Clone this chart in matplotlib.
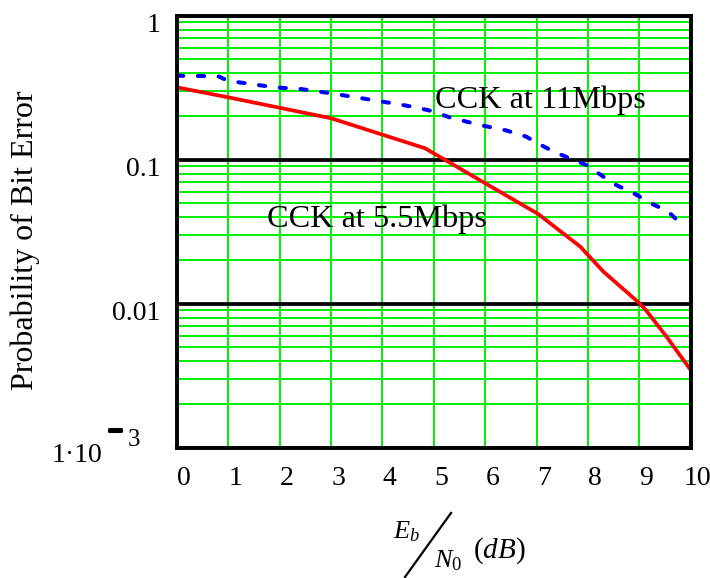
import matplotlib
matplotlib.use("Agg")
import matplotlib.pyplot as plt
import matplotlib.transforms as mtransforms
import matplotlib.patheffects as pe
from matplotlib.lines import Line2D
from matplotlib.ticker import LogLocator, NullFormatter
import numpy as np

plt.rcParams["font.family"] = ["Liberation Serif", "DejaVu Serif"]
plt.rcParams["mathtext.fontset"] = "custom"
plt.rcParams["mathtext.rm"] = "Liberation Serif"
plt.rcParams["mathtext.it"] = "Liberation Serif:italic"
plt.rcParams["lines.scale_dashes"] = False

# CCK at 5.5 Mbps (solid red)
ebn0_55 = [0, 1, 3, 4.83, 6, 7.03, 7.85, 8.3, 9.0, 9.13, 9.53, 10]
ber_55 = [0.318, 0.271, 0.194, 0.120, 0.0686, 0.042, 0.0249, 0.0167,
          0.0101, 0.0090, 0.0059, 0.00346]

# CCK at 11 Mbps (dashed blue)
ebn0_11 = [0, 0.8, 1.0, 1.25, 1.9, 2.4, 3.0, 3.6, 4.0, 4.6, 5.0, 5.3, 5.9,
           6.4, 6.8, 7.0, 7.35, 7.65, 7.97, 8.3, 8.55, 8.95, 9.22, 9.55, 9.8]
ber_11 = [0.383, 0.380, 0.352, 0.343, 0.318, 0.310, 0.289, 0.267, 0.253,
          0.233, 0.216, 0.197, 0.174, 0.160, 0.1445, 0.131, 0.113, 0.102,
          0.0918, 0.0762, 0.0667, 0.0569, 0.0498, 0.0440, 0.0362]

x_ticks = list(range(0, 11))
x_labels = [str(v) for v in x_ticks]
y_ticks = [1, 0.1, 0.01, 0.001]
y_labels = ["1", "0.1", "0.01", ""]

green = "#00f000"

fig = plt.figure(figsize=(7.1, 5.78), dpi=100)
ax = fig.add_axes([177 / 710, 1 - 447.7 / 578, 513.7 / 710, 432 / 578])
ax.set_yscale("log")
ax.set_xlim(0, 10)
ax.set_ylim(1e-3, 1)

# grid: green minor lines, black decade lines
ax.set_xticks(x_ticks)
ax.set_xticklabels(x_labels, fontsize=20)
ax.set_yticks(y_ticks)
ax.set_yticklabels(y_labels, fontsize=20)
ax.yaxis.set_minor_locator(LogLocator(base=10, subs=np.arange(2, 10)))
ax.yaxis.set_minor_formatter(NullFormatter())
ax.grid(which="major", axis="x", color=green, lw=1.4)
ax.grid(which="minor", axis="y", color=green, lw=1.4)
ax.grid(which="major", axis="y", color="black", lw=2.7)
ax.set_axisbelow(True)
ax.tick_params(which="both", length=0)
ax.tick_params(axis="x", pad=13)
ax.tick_params(axis="y", pad=12)
for s in ax.spines.values():
    s.set_linewidth(2.8)

# tick labels sit a little right of / below their grid lines in the original
for lbl in ax.get_xticklabels():
    lbl.set_transform(lbl.get_transform() + mtransforms.ScaledTranslation(
        0.07, 0, fig.dpi_scale_trans))
for lbl in ax.get_yticklabels():
    lbl.set_transform(lbl.get_transform() + mtransforms.ScaledTranslation(
        0, -0.07, fig.dpi_scale_trans))

ax.plot(ebn0_55, ber_55, color="#ff0000", lw=2.7, solid_capstyle="butt")
ax.plot(ebn0_11, ber_11, color="#0000ff", lw=2.9,
        dashes=(4.5, 10.5), dash_capstyle="round")

ax.text(5.03, 0.229, "CCK at 11Mbps", fontsize=23.2, va="baseline")
ax.text(1.76, 0.0343, "CCK at 5.5Mbps", fontsize=23.2, va="baseline")

# the 1e-3 tick label in the original "1·10 -3" style
fig.text(102 / 710, 1 - 455 / 578, "1·10", ha="right", va="center", fontsize=20)
fig.text(115 / 710, 1 - 429 / 578, "–", ha="center", va="center", fontsize=18,
         fontweight="bold",
         path_effects=[pe.withStroke(linewidth=2.2, foreground="black")])
fig.text(128 / 710, 1 - 440 / 578, "3", ha="left", va="center", fontsize=18)

# y label
fig.text(25 / 710, 1 - 240 / 578, "Probability of Bit Error", rotation=90,
         ha="center", va="center", fontsize=23)

# x label: Eb / N0 (dB)
fig.text(393 / 710, 1 - 538 / 578, r"$E_b$", ha="left", va="baseline", fontsize=19)
fig.add_artist(Line2D([405 / 710, 451 / 710], [1 - 577 / 578, 1 - 513 / 578],
                      color="black", lw=1.6, transform=fig.transFigure))
fig.text(434 / 710, 1 - 567 / 578, r"$N_0$", ha="left", va="baseline", fontsize=19)
fig.text(473 / 710, 1 - 558 / 578, r"$(dB)$", ha="left", va="baseline", fontsize=21)

fig.savefig("out.png", dpi=100)
